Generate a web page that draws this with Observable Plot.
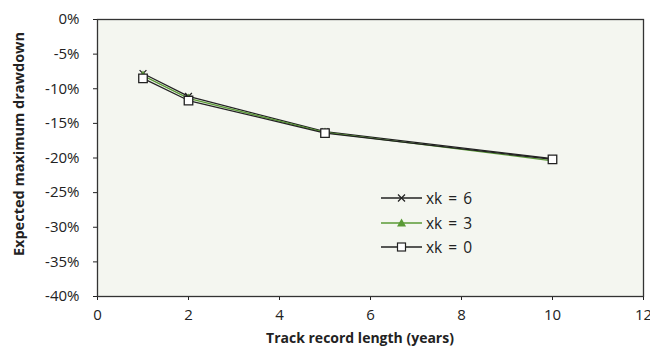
<!DOCTYPE html>
<html><head><meta charset="utf-8">
<script src="https://cdn.jsdelivr.net/npm/d3@7"></script>
<script src="https://cdn.jsdelivr.net/npm/@observablehq/plot@0.6"></script>
<style>
body{margin:0;background:#fff;}
#wrap{position:relative;width:650px;height:351px;font-family:"Open Sans",sans-serif;color:#222;}
#wrap svg{font-family:"Open Sans",sans-serif;}
#legend{position:absolute;left:381px;top:186px;font-size:15.5px;}
#legend div{display:flex;align-items:center;height:24.5px;}
#legend span{margin-left:4px;word-spacing:2px;}
.title{position:absolute;font-weight:bold;font-size:14px;white-space:nowrap;}
#xtitle{left:360px;top:337px;transform:translate(-50%,-50%);}
#ytitle{left:18px;top:144px;transform:translate(-50%,-50%) rotate(-90deg);font-size:14.5px;}
</style></head>
<body><div id="wrap"><div id="legend"></div><div class="title" id="xtitle"></div><div class="title" id="ytitle"></div></div>
<script>
const years = [1, 2, 5, 10];
const series = ["xk = 6", "xk = 3", "xk = 0"];
const xk6 = [-7.8, -11.1, -16.2, -20.1];
const xk3 = [-8.1, -11.4, -16.3, -20.4];
const xk0 = [-8.5, -11.7, -16.4, -20.2];
const yTicks = [0, -5, -10, -15, -20, -25, -30, -35, -40];
const xTicks = [0, 2, 4, 6, 8, 10, 12];
const xTitle = "Track record length (years)";
const yTitle = "Expected maximum drawdown";
const colors = {"xk = 6": "#222", "xk = 3": "#5a9a36", "xk = 0": "#222"};

const rows = (name, vals) => years.map((x, i) => ({series: name, x, y: vals[i]}));
const d6 = rows(series[0], xk6), d3s = rows(series[1], xk3), d0 = rows(series[2], xk0);

const chart = Plot.plot({
  width: 650, height: 351,
  marginLeft: 97, marginRight: 7, marginTop: 19, marginBottom: 55,
  style: {fontSize: "15px", color: "#222", background: "transparent"},
  x: {domain: [0, 12]},
  y: {domain: [-40, 0]},
  marks: [
    Plot.frame({fill: "#f4f6f0", stroke: "none"}),
    Plot.axisX({ticks: xTicks, tickSize: 4, tickPadding: 9, label: null, fontSize: 15}),
    Plot.axisY({ticks: yTicks, tickSize: 4, tickPadding: 14, tickFormat: d => d + "%", label: null, fontSize: 15}),
    Plot.line(d6, {x: "x", y: "y", stroke: colors["xk = 6"], strokeWidth: 1.3}),
    Plot.dot(d6, {x: "x", y: "y", symbol: "times", r: 3.2, stroke: colors["xk = 6"], strokeWidth: 1.2}),
    Plot.line(d3s, {x: "x", y: "y", stroke: colors["xk = 3"], strokeWidth: 1.3}),
    Plot.dot(d3s, {x: "x", y: "y", symbol: "triangle", r: 3.2, fill: colors["xk = 3"], stroke: "none"}),
    Plot.line(d0, {x: "x", y: "y", stroke: colors["xk = 0"], strokeWidth: 1.3}),
    Plot.dot(d0, {x: "x", y: "y", symbol: "square", r: 4.8, fill: "white", stroke: colors["xk = 0"], strokeWidth: 1.3}),
    Plot.frame({stroke: "#333", strokeWidth: 1.3})
  ]
});
document.getElementById("wrap").prepend(chart);
document.getElementById("xtitle").textContent = xTitle;
document.getElementById("ytitle").textContent = yTitle;

const legend = document.getElementById("legend");
const markers = {
  "xk = 6": '<path d="M17,-3.5L24,3.5M17,3.5L24,-3.5" stroke="#222" stroke-width="1.2"/>',
  "xk = 3": '<path d="M20.5,-4.5L25,3.5L16,3.5Z" fill="#5a9a36"/>',
  "xk = 0": '<rect x="16.5" y="-4" width="8" height="8" fill="white" stroke="#222" stroke-width="1.2"/>'
};
series.forEach(s => {
  const div = document.createElement("div");
  div.innerHTML = `<svg width="41" height="12" viewBox="0 -6 41 12"><line x1="0" x2="41" y1="0" y2="0" stroke="${colors[s]}" stroke-width="1.3"/>${markers[s]}</svg><span>${s}</span>`;
  legend.appendChild(div);
});
</script></body></html>
